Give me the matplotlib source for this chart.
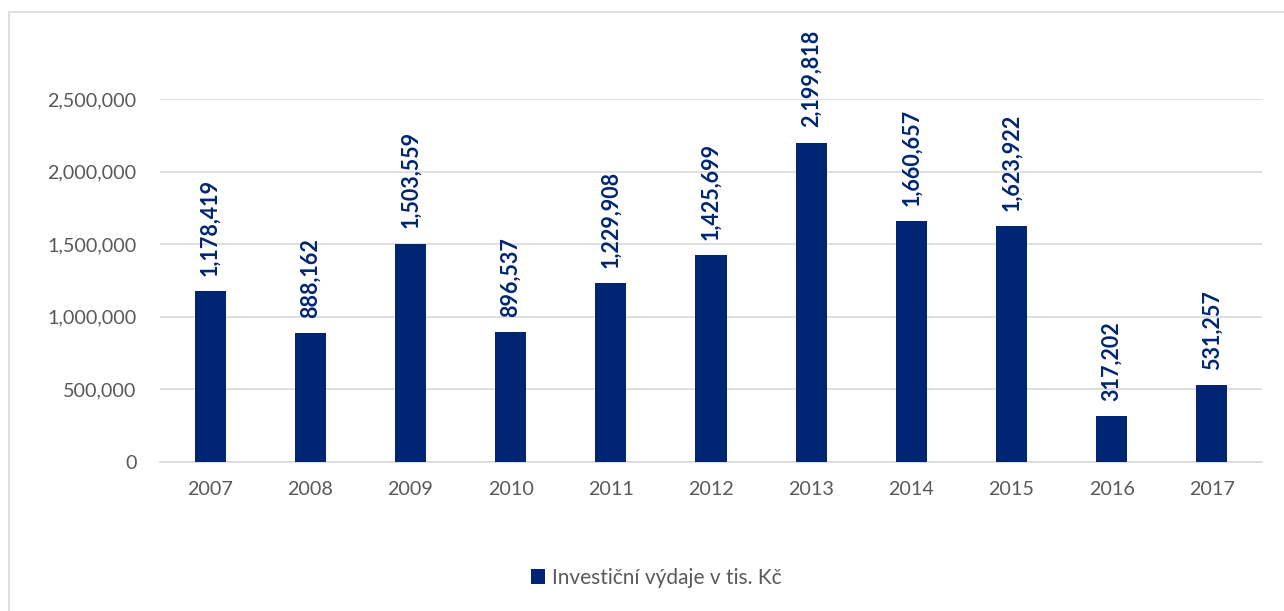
import matplotlib.pyplot as plt
from matplotlib.patches import Rectangle
from matplotlib.ticker import FuncFormatter

years = ['2007', '2008', '2009', '2010', '2011', '2012', '2013', '2014', '2015', '2016', '2017']
values = [1178419, 888162, 1503559, 896537, 1229908, 1425699, 2199818, 1660657, 1623922, 317202, 531257]
series_name = 'Investiční výdaje v tis. Kč'

navy = '#002673'
grey_text = '#595959'

plt.rcParams['font.family'] = ['Lato', 'DejaVu Sans']

fig = plt.figure(figsize=(12.84, 6.11), dpi=100)
ax = fig.add_axes([160 / 1284, 1 - 462 / 611, 1102 / 1284, 363 / 611])

x = range(len(years))
bars = ax.bar(x, values, width=0.31, color=navy, label=series_name, zorder=3)

for xi, v in zip(x, values):
    ax.annotate(f'{v:,}', (xi, v), xytext=(0, 11), textcoords='offset points',
                rotation=90, ha='center', va='bottom', color=navy,
                fontsize=15.5, fontweight='bold', annotation_clip=False)

ax.set_xlim(-0.5, len(years) - 0.5)
ax.set_ylim(0, 2500000)
ax.set_yticks(range(0, 2500001, 500000))
ax.yaxis.set_major_formatter(FuncFormatter(lambda v, p: f'{int(v):,}'))
ax.set_xticks(list(x))
ax.set_xticklabels(years)
ax.tick_params(axis='both', length=0, labelsize=14.2, labelcolor=grey_text)
ax.tick_params(axis='y', pad=17)
ax.tick_params(axis='x', pad=14)
ax.grid(axis='y', color='#d9d9d9', linewidth=1.2, zorder=0)
for s in ['top', 'right', 'left']:
    ax.spines[s].set_visible(False)
ax.spines['bottom'].set_color('#d9d9d9')
ax.spines['bottom'].set_linewidth(1.2)

leg = fig.legend(handles=[bars], labels=[series_name], loc='center',
                 bbox_to_anchor=(656 / 1284, 1 - 578 / 611), frameon=False,
                 fontsize=15, handlelength=0.7, handleheight=0.7,
                 handletextpad=0.3)
for t in leg.get_texts():
    t.set_color(grey_text)

# outer chart frame
fig.patches.append(Rectangle((9 / 1284, -0.01), 1.0, 1 - 12 / 611 + 0.01,
                             transform=fig.transFigure, fill=False,
                             edgecolor='#d9d9d9', linewidth=1.2))

fig.savefig('out.png', dpi=100)
